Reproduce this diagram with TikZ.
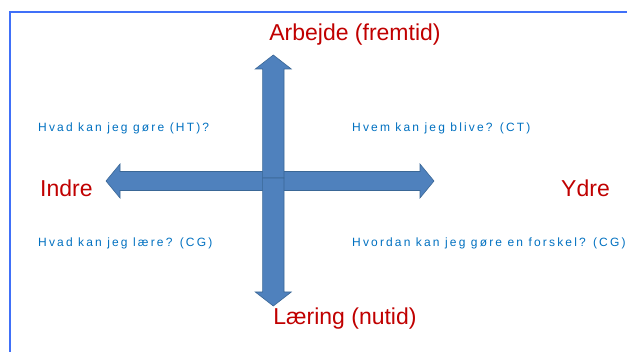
\documentclass[tikz,border=0pt]{standalone}
\usepackage{fontspec}
\setmainfont{Liberation Sans}
\newfontfamily\spacedfont[LetterSpace=18]{Liberation Sans}
\definecolor{axisred}{HTML}{C00000}
\definecolor{qblue}{HTML}{0070C0}
\definecolor{arrowfill}{HTML}{4F81BD}
\definecolor{arrowline}{HTML}{3A6796}
\definecolor{frameblue}{HTML}{4070F8}
\begin{document}
\begin{tikzpicture}[x=1pt,y=-1pt,
        axislabel/.style={text=axisred, font=\fontsize{23}{23}\selectfont, inner sep=0pt},
        question/.style={text=qblue, font=\spacedfont\fontsize{12}{12}\selectfont, inner sep=0pt, anchor=west},
        blockarrow/.style={fill=arrowfill, draw=arrowline, line width=0.6pt, line join=miter}]
        \useasboundingbox (0,0) rectangle (627,352);
        % frame
        \draw[frameblue, line width=2pt] (10,353) -- (10,12) -- (628,12);

        % horizontal arrow
        \draw[blockarrow] (106,181) -- (120,164) -- (120,171.5) -- (420,171.5) -- (420,164) -- (434,181)
            -- (420,198) -- (420,190.5) -- (120,190.5) -- (120,198) -- cycle;
        % vertical arrows
        \draw[blockarrow] (262.6,178) -- (262.6,69) -- (255.3,69) -- (273.3,55) -- (291.3,69) -- (284,69) -- (284,178) -- cycle;
        \draw[blockarrow] (262.6,178) -- (262.6,292) -- (255.3,292) -- (273.3,306) -- (291.3,292) -- (284,292) -- (284,178) -- cycle;

        \node (future) [axislabel] at (355,35) {Arbejde (fremtid)};
        \node (present) [axislabel] at (345,319) {Læring (nutid)};
        \node (inner) [axislabel, anchor=west] at (40,188) {Indre};
        \node (outer) [axislabel, anchor=east] at (610,188) {Ydre};

        \node (qdo) [question] at (38,128) {Hvad kan jeg gøre (HT)?};
        \node (qbecome) [question] at (352,128) {Hvem kan jeg blive? (CT)};
        \node (qlearn) [question] at (38,243) {Hvad kan jeg lære? (CG)};
        \node (qdiff) [question] at (352,243) {Hvordan kan jeg gøre en forskel? (CG)};
    \end{tikzpicture}
\end{document}
